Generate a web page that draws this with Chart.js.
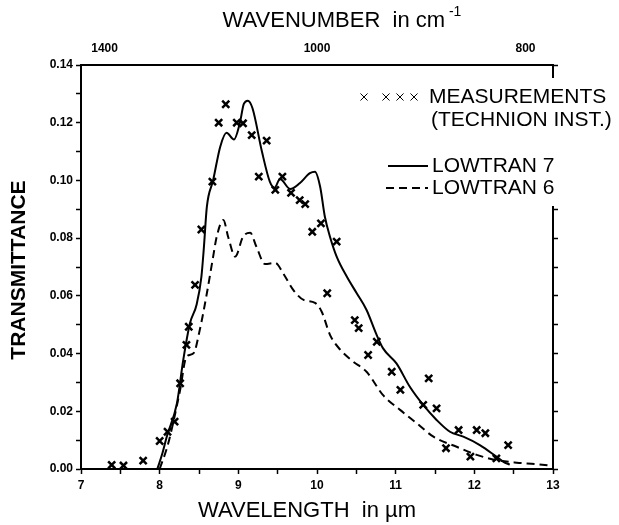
<!DOCTYPE html>
<html>
<head>
<meta charset="utf-8">
<script src="https://cdn.jsdelivr.net/npm/chart.js@4.4.0/dist/chart.umd.min.js"></script>
<style>
  html, body { margin: 0; padding: 0; background: #fff; }
  #wrap { width: 619px; height: 525px; }
</style>
</head>
<body>
<div id="wrap"><canvas id="chart" width="619" height="525"></canvas></div>
<script>
// Measurements (Technion Inst.) - wavelength in um, transmittance
const measWl = [7.39, 7.54, 7.79, 8.00, 8.10, 8.19, 8.26, 8.34, 8.37, 8.45, 8.53, 8.67, 8.75, 8.84, 8.98, 9.06, 9.17, 9.26, 9.36, 9.47,
                9.56, 9.67, 9.78, 9.85, 9.94, 10.05, 10.13, 10.25, 10.48, 10.53, 10.65, 10.76, 10.95, 11.06, 11.35, 11.42, 11.52, 11.64,
                11.80, 11.95, 12.03, 12.14, 12.28, 12.43];
const measT  = [0.0014, 0.0012, 0.0029, 0.0097, 0.0129, 0.0164, 0.0297, 0.0430, 0.0493, 0.0638, 0.0830, 0.0996, 0.1200, 0.1264, 0.1200,
                0.1198, 0.1157, 0.1013, 0.1138, 0.0967, 0.1013, 0.0957, 0.0932, 0.0918, 0.0822, 0.0851, 0.0609, 0.0788, 0.0516, 0.0488,
                0.0395, 0.0441, 0.0337, 0.0274, 0.0222, 0.0314, 0.0210, 0.0072, 0.0135, 0.0043, 0.0135, 0.0124, 0.0037, 0.0083];

// LOWTRAN 7 (solid)
const lt7Wl = [7.97, 8.03, 8.09, 8.22, 8.30, 8.385, 8.47, 8.53, 8.56, 8.60, 8.68, 8.77, 8.85, 8.945, 9.02, 9.07, 9.12, 9.18, 9.30, 9.40,
               9.46, 9.53, 9.66, 9.78, 9.91, 9.975, 10.04, 10.10, 10.165, 10.25, 10.38, 10.505, 10.63, 10.75, 10.84, 11.01, 11.18,
               11.35, 11.52, 11.69, 11.86, 12.07, 12.28, 12.37, 12.45];
const lt7T  = [0.0, 0.005, 0.0112, 0.0228, 0.0378, 0.0505, 0.0570, 0.0665, 0.0760, 0.0909, 0.1001, 0.1117, 0.1165, 0.1142, 0.1200,
               0.1265, 0.1276, 0.1250, 0.1100, 0.0996, 0.0975, 0.1005, 0.0970, 0.0990, 0.1025, 0.1030, 0.0978, 0.0874, 0.0805,
               0.0736, 0.0666, 0.0609, 0.0551, 0.0470, 0.0418, 0.0366, 0.0285, 0.0222, 0.0170, 0.0129, 0.0112, 0.0083, 0.0043,
               0.0025, 0.0015];

// LOWTRAN 6 (dashed)
const lt6Wl = [8.00, 8.10, 8.17, 8.26, 8.34, 8.43, 8.51, 8.60, 8.68, 8.725, 8.81, 8.87, 8.96, 9.06, 9.15, 9.23, 9.34, 9.47, 9.57, 9.70,
               9.83, 9.975, 10.06, 10.165, 10.29, 10.46, 10.63, 10.84, 11.06, 11.27, 11.48, 11.775, 12.03, 12.28, 12.54, 12.79, 12.95];
const lt6T  = [0.0, 0.008, 0.0158, 0.0274, 0.0389, 0.0401, 0.0482, 0.0609, 0.0736, 0.0805, 0.0863, 0.0805, 0.0736, 0.0805, 0.0819,
               0.0770, 0.0710, 0.0714, 0.0678, 0.0620, 0.0586, 0.0576, 0.0545, 0.0465, 0.0415, 0.0372, 0.0337, 0.0256, 0.0204,
               0.0158, 0.0112, 0.0077, 0.0049, 0.0031, 0.0022, 0.0017, 0.0012];

// Top axis: wavenumber labels and where they sit on the wavelength scale
const topTickLabels = ['1400', '1000', '800'];
const topTickAt = [7.3, 10.0, 12.65];

const FONT = '"Liberation Sans", Arial, Helvetica, sans-serif';

function toPoints(xs, ys) {
    return xs.map((x, i) => ({ x: x, y: ys[i] }));
}

// Axis titles and the legend box, drawn on top
const annotations = {
    id: 'annotations',
    afterDraw(chart) {
        const ctx = chart.ctx;
        ctx.save();
        ctx.fillStyle = '#000';
        ctx.strokeStyle = '#000';
        ctx.textBaseline = 'middle';

        // top title with superscript
        ctx.font = '22px ' + FONT;
        const t1 = 'WAVENUMBER  in cm';
        const w1 = ctx.measureText(t1).width;
        ctx.font = '14px ' + FONT;
        const w1s = ctx.measureText(' -1').width;
        const x0 = 342 - (w1 + w1s) / 2;
        ctx.textAlign = 'left';
        ctx.font = '22px ' + FONT;
        ctx.fillText(t1, x0, 21);
        ctx.font = '14px ' + FONT;
        ctx.fillText(' -1', x0 + w1, 12);

        // bottom title
        ctx.font = '22px ' + FONT;
        ctx.textAlign = 'center';
        ctx.fillText('WAVELENGTH  in \u00b5m', 307, 511);

        // left title
        ctx.save();
        ctx.translate(19, 270);
        ctx.rotate(-Math.PI / 2);
        ctx.font = 'bold 21px ' + FONT;
        ctx.fillText('TRANSMITTANCE', 0, 0);
        ctx.restore();

        // legend (white box hides the right frame behind it)
        ctx.fillStyle = '#fff';
        ctx.fillRect(354, 78, 265, 128);
        ctx.fillStyle = '#000';
        const cross = { pointStyle: 'crossRot', radius: 5, borderWidth: 2.5 };
        [364, 386, 400, 414].forEach(x => Chart.helpers.drawPoint(ctx, cross, x, 97));
        ctx.textAlign = 'left';
        ctx.font = '21px ' + FONT;
        ctx.fillText('MEASUREMENTS', 429, 97);
        ctx.fillText('(TECHNION INST.)', 431, 120);

        ctx.lineWidth = 2;
        ctx.beginPath();
        ctx.moveTo(388, 166);
        ctx.lineTo(428, 166);
        ctx.stroke();
        ctx.setLineDash([8, 5]);
        ctx.beginPath();
        ctx.moveTo(386, 188);
        ctx.lineTo(428, 188);
        ctx.stroke();
        ctx.setLineDash([]);
        ctx.fillText('LOWTRAN 7', 432, 166);
        ctx.fillText('LOWTRAN 6', 432, 188);
        ctx.restore();
    }
};

const ctx = document.getElementById('chart').getContext('2d');
new Chart(ctx, {
    type: 'scatter',
    data: {
        datasets: [
            {
                label: 'MEASUREMENTS (TECHNION INST.)',
                data: toPoints(measWl, measT),
                showLine: false,
                pointStyle: 'crossRot',
                pointRadius: 5,
                pointBorderWidth: 2.5,
                borderColor: '#000',
                backgroundColor: '#000'
            },
            {
                label: 'LOWTRAN 7',
                data: toPoints(lt7Wl, lt7T),
                showLine: true,
                pointRadius: 0,
                borderColor: '#000',
                borderWidth: 2,
                cubicInterpolationMode: 'monotone'
            },
            {
                label: 'LOWTRAN 6',
                data: toPoints(lt6Wl, lt6T),
                showLine: true,
                pointRadius: 0,
                borderColor: '#000',
                borderWidth: 2,
                borderDash: [8, 5],
                cubicInterpolationMode: 'monotone'
            }
        ]
    },
    options: {
        responsive: false,
        animation: false,
        layout: { padding: 0 },
        plugins: {
            legend: { display: false },
            tooltip: { enabled: false }
        },
        scales: {
            x: {
                type: 'linear',
                position: 'bottom',
                min: 7,
                max: 13,
                afterFit: s => { s.height = 56; },
                ticks: {
                    stepSize: 0.5,
                    color: '#000',
                    font: { family: FONT, size: 12, weight: 'bold' },
                    padding: 4,
                    maxRotation: 0,
                    callback: v => (Number.isInteger(v) ? String(v) : '')
                },
                grid: { display: true, drawOnChartArea: false, tickLength: 5, tickColor: '#000', tickWidth: 1.5 },
                border: { display: true, color: '#000', width: 2 }
            },
            x2: {
                type: 'linear',
                position: 'top',
                min: 7,
                max: 13,
                afterFit: s => { s.height = 65; },
                afterBuildTicks: s => { s.ticks = topTickAt.map(v => ({ value: v })); },
                ticks: {
                    color: '#000',
                    font: { family: FONT, size: 12, weight: 'bold' },
                    padding: 9,
                    maxRotation: 0,
                    autoSkip: false,
                    callback: (v, i) => topTickLabels[i]
                },
                grid: { display: true, drawOnChartArea: false, drawTicks: false },
                border: { display: true, color: '#000', width: 2 }
            },
            y: {
                type: 'linear',
                position: 'left',
                min: 0,
                max: 0.14,
                afterFit: s => { s.width = 81; },
                ticks: {
                    stepSize: 0.01,
                    color: '#000',
                    font: { family: FONT, size: 12, weight: 'bold' },
                    padding: 3,
                    callback: v => (Math.round(v * 100) % 2 === 0 ? v.toFixed(2) : '')
                },
                grid: { display: true, drawOnChartArea: false, tickLength: 5, tickColor: '#000', tickWidth: 1.5 },
                border: { display: true, color: '#000', width: 2 }
            },
            y2: {
                type: 'linear',
                position: 'right',
                min: 0,
                max: 0.14,
                afterFit: s => { s.width = 66; },
                ticks: {
                    stepSize: 0.01,
                    callback: () => ''
                },
                grid: { display: true, drawOnChartArea: false, tickLength: 5, tickColor: '#000', tickWidth: 1.5 },
                border: { display: true, color: '#000', width: 2 }
            }
        }
    },
    plugins: [annotations]
});
</script>
</body>
</html>
